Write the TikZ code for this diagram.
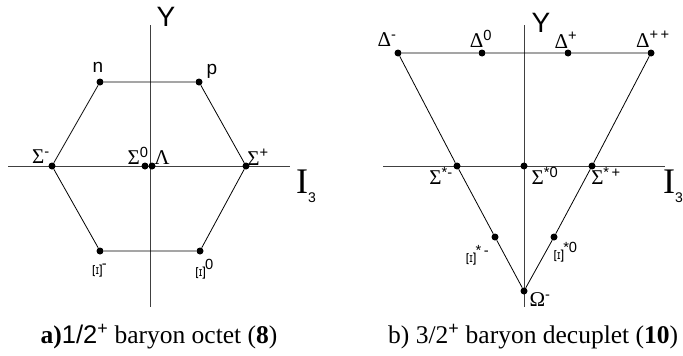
\documentclass[tikz,border=0pt]{standalone}
\usepackage{fontspec}
\setmainfont{Liberation Serif}
\setsansfont{Liberation Sans}
\usepackage{graphicx}
\usetikzlibrary{positioning}
\newcommand{\rXi}{\rotatebox[origin=c]{90}{\scalebox{1.1}[0.65]{Ξ}}}
\newcommand{\hsup}[1]{\textsuperscript{\sffamily #1}}
\newcommand{\isospin}{I\raisebox{-0.25em}{\sffamily\fontsize{14}{14}\selectfont 3}}

\begin{document}
\begin{tikzpicture}[x=1pt, y=-1pt,
	dot/.style={circle, fill=black, inner sep=0pt, minimum size=7pt},
	axis/.style={draw=black!75, line width=0.9pt},
	edge/.style={draw=black, line width=0.8pt},
	lab/.style={inner sep=0pt, font=\fontsize{21}{21}\selectfont},
	slab/.style={inner sep=0pt, font=\sffamily\fontsize{19}{19}\selectfont},
	ylab/.style={inner sep=0pt, font=\sffamily\fontsize{28}{28}\selectfont},
	ilab/.style={inner sep=0pt, font=\fontsize{36}{36}\selectfont},
	caption/.style={inner sep=0pt, font=\fontsize{25.5}{25.5}\selectfont}
]
\useasboundingbox (0,0) rectangle (683,356);

% a) octet
\coordinate (oyt) at (150,25);
\coordinate (oyb) at (150,307);
\coordinate (oxl) at (8,166);
\coordinate (oxr) at (290,166);
\draw[axis] (oyt) -- (oyb);
\draw[axis] (oxl) -- (oxr);
\node[dot] (n)   at (100,82)  {};
\node[dot] (p)   at (199,82)  {};
\node[dot] (sm)  at (52,166)  {};
\node[dot] (sp)  at (246,166) {};
\node[dot] (s0)  at (145,166) {};
\node[dot] (lam) at (152,166) {};
\node[dot] (xm)  at (100,251) {};
\node[dot] (x0)  at (200,251) {};
\draw[edge] (n) -- (p) -- (sp) -- (x0) -- (xm) -- (sm) -- (n);
\node[ylab] (oy)   at (166,17)  {Y};
\node[ilab, anchor=west] (oi) at (296,186) {\isospin};
\node[slab] (ln)   at (98,67)   {n};
\node[slab] (lp)   at (212,71)  {p};
\node[lab]  (lsm)  at (41,157)  {Σ\hsup{-}};
\node[lab]  (ls0)  at (138,156) {Σ\hsup{0}};
\node[lab]  (llam) at (162,158) {Λ};
\node[lab]  (lsp)  at (258,157) {Σ\hsup{+}};
\node[lab]  (lxm)  at (100,271) {\rXi\hsup{-}};
\node[lab]  (lx0)  at (205,270) {\rXi\hsup{0}};
\node[caption] (capa) at (159,337) {\textbf{a)}{\sffamily 1/2}\hsup{+} baryon octet (\textbf{8})};

% b) decuplet
\coordinate (dyt) at (524,25);
\coordinate (dyb) at (524,307);
\coordinate (dxl) at (383,166);
\coordinate (dxr) at (665,166);
\draw[axis] (dyt) -- (dyb);
\draw[axis] (dxl) -- (dxr);
\node[dot] (dm)  at (398,53)  {};
\node[dot] (d0)  at (482,53)  {};
\node[dot] (dp)  at (568,53)  {};
\node[dot] (dpp) at (651,53)  {};
\node[dot] (sxm) at (457,166) {};
\node[dot] (sx0) at (524,166) {};
\node[dot] (sxp) at (592,166) {};
\node[dot] (xxm) at (495,237) {};
\node[dot] (xx0) at (554,237) {};
\node[dot] (om)  at (524,291) {};
\draw[edge] (dm) -- (d0) -- (dp) -- (dpp) -- (sxp) -- (xx0) -- (om) -- (xxm) -- (sxm) -- (dm);
\node[ylab] (dy)   at (541,23)  {Y};
\node[ilab, anchor=west] (di) at (663,186) {\isospin};
\node[lab] (ldm)  at (387,40)  {Δ\hsup{-}};
\node[lab] (ld0)  at (481,39)  {Δ\hsup{0}};
\node[lab] (ldp)  at (566,40)  {Δ\hsup{+}};
\node[lab] (ldpp) at (653,39)  {Δ\hsup{+\,+}};
\node[lab] (lsxm) at (441,176) {Σ\hsup{*-}};
\node[lab] (lsx0) at (545,176) {Σ\hsup{*0}};
\node[lab] (lsxp) at (606,176) {Σ\hsup{*\,+}};
\node[lab] (lxxm) at (478,256) {\rXi\hsup{*\,-}};
\node[lab] (lxx0) at (566,253) {\rXi\hsup{*0}};
\node[lab] (lom)  at (540,300) {Ω\hsup{-}};
\node[caption, anchor=west] (capb) at (388,337) {b) 3/2\hsup{+} baryon decuplet (\textbf{10})};
\end{tikzpicture}
\end{document}
